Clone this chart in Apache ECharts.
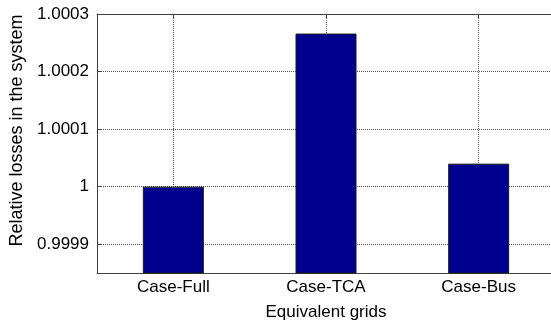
<!DOCTYPE html>
<html>
<head>
<meta charset="utf-8">
<script src="https://cdn.jsdelivr.net/npm/echarts@6/dist/echarts.min.js"></script>
<style>
  html, body { margin: 0; padding: 0; background: #fff; }
  #chart { width: 551px; height: 322px; }
</style>
</head>
<body>
<div id="chart"></div>
<script>
// Relative losses for each equivalent grid model
const categories = ['Case-Full', 'Case-TCA', 'Case-Bus'];
const lossValues = [1.0, 1.000266, 1.00004];
const yMin = 0.99985;
const yMax = 1.0003;

const font = 'Liberation Sans, Arial, sans-serif';
const fontSize = 17;
const axisColor = '#404040';
const gridLine = { show: true, lineStyle: { type: 'dotted', color: '#555', width: 1 } };

const chart = echarts.init(document.getElementById('chart'), null, { renderer: 'canvas' });
chart.setOption({
  animation: false,
  backgroundColor: '#fff',
  grid: { left: 97, top: 14, width: 458, height: 259, containLabel: false, outerBoundsMode: 'none' },
  xAxis: [
    {
      type: 'category',
      data: categories,
      boundaryGap: true,
      name: 'Equivalent grids',
      nameLocation: 'middle',
      nameGap: 31,
      nameTextStyle: { fontFamily: font, fontSize: fontSize, color: '#000' },
      axisLine: { show: true, lineStyle: { color: axisColor, width: 1 } },
      axisTick: { show: true, alignWithLabel: true, inside: true, length: 4, lineStyle: { color: axisColor } },
      axisLabel: { fontFamily: font, fontSize: fontSize, color: '#000', margin: 6 },
      splitLine: Object.assign({ alignWithLabel: true }, gridLine)
    },
    {
      type: 'category',
      data: categories,
      position: 'top',
      boundaryGap: true,
      axisLine: { show: true, lineStyle: { color: axisColor, width: 1 } },
      axisTick: { show: true, alignWithLabel: true, inside: true, length: 4, lineStyle: { color: axisColor } },
      axisLabel: { show: false },
      splitLine: { show: false }
    }
  ],
  yAxis: [
    {
      type: 'value',
      min: yMin,
      max: yMax,
      name: 'Relative losses in the system',
      nameLocation: 'middle',
      nameGap: 70,
      nameTextStyle: { fontFamily: font, fontSize: 18, color: '#000', padding: [0, 0, 0, 26] },
      axisLine: { show: true, lineStyle: { color: axisColor, width: 1 } },
      axisTick: { show: true, inside: true, length: 4, lineStyle: { color: axisColor } },
      axisLabel: {
        fontFamily: font, fontSize: fontSize, color: '#000', margin: 8,
        showMinLabel: false,
        formatter: v => (Math.abs(v - yMin) < 1e-9 ? '' : String(+v.toFixed(4)))
      },
      splitLine: gridLine
    }
  ],
  series: [
    {
      type: 'bar',
      data: lossValues,
      barWidth: 61,
      itemStyle: { color: '#00008F', borderColor: '#1a1a1a', borderWidth: 1 }
    }
  ]
});
</script>
</body>
</html>
